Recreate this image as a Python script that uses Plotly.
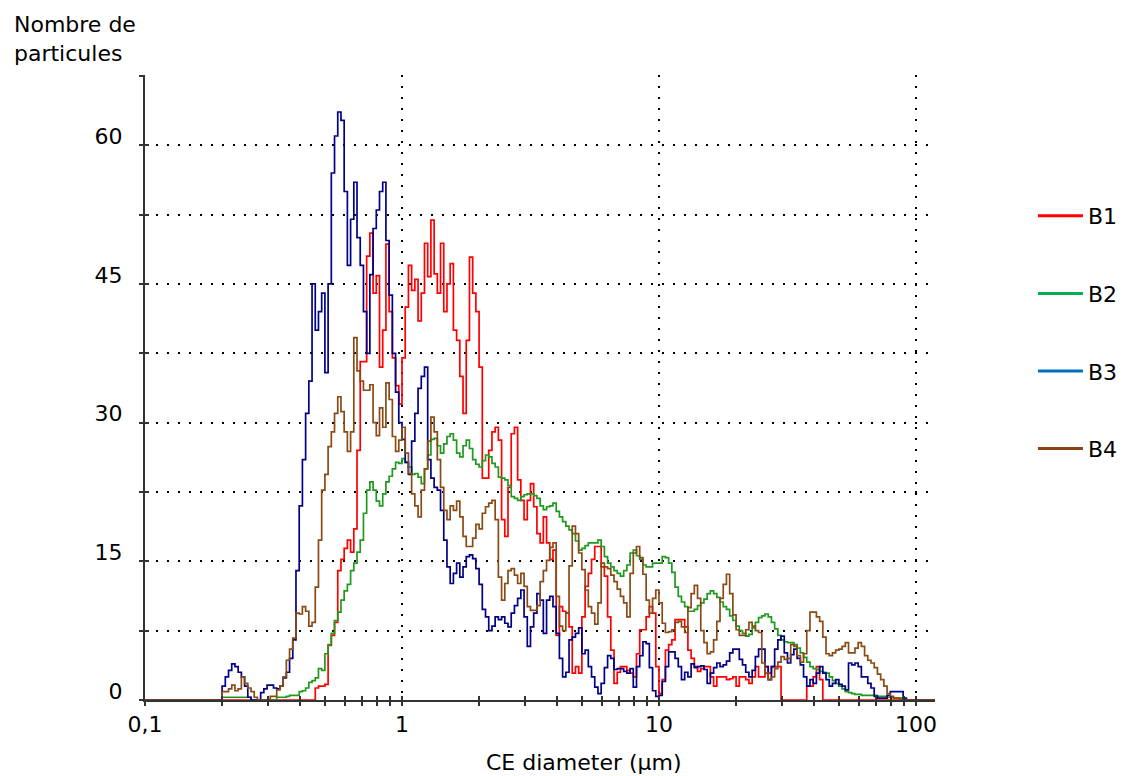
import numpy as np
import plotly.graph_objects as go

# Size bins of the particle counter (80 bins per decade, starting at 0.1 µm)
N_BINS = 247
diameter_um = 10 ** (-1 + np.arange(N_BINS) / 80)

# Particle counts per bin (rows of 10 bins, from 0.1 µm up)
b1 = [0] * 20 + [
    0, 0, 0, 0, 0, 0, 0, 0, 0, 0,
    0, 0, 0, 0, 0, 0, 0, 0, 0, 0,
    0, 0, 0, 0, 0, 0, 0, 0, 0, 0,
    0, 0, 0, 1.3, 1.5, 1.5, 1.7, 5.9, 7, 8.4,
    14, 15.2, 16.4, 17.3, 16, 18.5, 27, 36.6, 36.6, 48,
    50.5, 44, 45.9, 36, 40, 49.3, 42, 37, 34, 32,
    37, 42.5, 47, 44.3, 45.5, 41, 44, 49.4, 45.8, 51.9,
    46.1, 44, 49.4, 42, 45, 47.2, 40, 38.9, 35, 31,
    38.9, 47.9, 44, 42, 36, 24, 24, 27, 29, 29.5,
    28.1, 19.5, 17.7, 23, 28.8, 29.5, 23.8, 21.6, 19.5, 21.6,
    23.4, 20.9, 18, 17, 19.8, 17, 15.2, 16.2, 7, 10.1,
    9.6, 9.4, 7.9, 2.9, 3.6, 2.9, 9, 12.3, 13.7, 15.2,
    16.6, 16.6, 14.4, 13.4, 9, 5.4, 1.8, 3, 3.6, 3.6,
    3.2, 2.9, 2.5, 5, 7.6, 7.6, 9, 10.1, 9.4, 3.6,
    0.7, 2.2, 5.4, 6, 6.5, 8.7, 8.7, 8.7, 7.9, 5.4,
    4.5, 3.6, 3.1, 3.4, 3.6, 3.6, 2.5, 1.5, 2.5, 2.5,
    2.5, 2.2, 2.3, 2.5, 1.5, 2.5, 2.5, 2.2, 1.8, 2.5,
    3.6, 2.5, 2.5, 3.6, 2.9, 3.6, 3.6, 3.6, 0, 0,
    0, 0, 0, 0, 0, 0, 1.5, 1.5, 2.5, 3.6,
    2.2, 0, 0, 0, 0, 0, 0, 0, 0, 0,
    0, 0, 0, 0, 0, 0, 0, 0, 0, 0,
    0, 0, 0, 0, 0, 0, 0, 0, 0, 0,
] + [0] * 7

b2 = [0] * 20 + [
    0, 0, 0, 0, 0.3, 0.3, 0.3, 0.3, 0.3, 0.3,
    0.3, 0.3, 0.3, 0, 0, 0, 0, 0, 0, 0,
    0, 0.3, 0.3, 0.3, 0.4, 0.5, 0.5, 0.5, 0.9, 1,
    1.3, 1.9, 2.1, 2.4, 3.4, 3.2, 5, 6, 7.2, 8.6,
    9.5, 10.8, 11.8, 12.5, 14, 14.8, 16, 17.3, 20.2, 22.7,
    23.6, 22.7, 21.5, 21, 22.3, 23.6, 24.2, 25, 25.7, 25.6,
    26.1, 25.7, 25.2, 24.4, 24.5, 24.1, 23.4, 25, 26.5, 28.2,
    28.3, 27.5, 26.7, 27.7, 28.5, 28.8, 28.1, 26.7, 26.3, 27.5,
    28.1, 27.2, 26, 25.5, 25.2, 25.9, 26.5, 26.3, 25.6, 25.2,
    24.1, 24, 23.8, 23.2, 22, 21.8, 21.6, 22, 22.2, 22.3,
    22.3, 22.1, 21.8, 21, 20.6, 20.9, 21, 21.3, 20.4, 19.8,
    19.3, 18.8, 18.4, 18, 17.2, 16.2, 16.4, 16.7, 17, 17,
    17, 17.3, 16.6, 15.5, 14.8, 14.4, 14, 13.7, 13.4, 14,
    14.6, 15.9, 16.2, 15.6, 15.2, 14.6, 14.4, 14.4, 14.8, 14.8,
    14.8, 15.5, 15.4, 14.8, 13.8, 12.2, 11.2, 10.6, 10.1, 9.6,
    9.6, 9.8, 10.2, 10.5, 10.9, 11.5, 11.8, 11.5, 11.1, 10.6,
    10.1, 9.8, 9.1, 8.6, 8, 7.5, 7.2, 6.9, 7.1, 7.8,
    8.4, 8.9, 9.1, 9.3, 9, 8.4, 7.7, 7, 6.5, 6.3,
    6.2, 6.2, 6, 5.6, 5.1, 4.6, 4.1, 3.6, 3.4, 3.3,
    3.1, 3, 2.9, 2.5, 2.1, 1.8, 1.5, 1.2, 0.9, 0.8,
    0.7, 0.6, 0.6, 0.5, 0.5, 0.5, 0.5, 0.5, 0.4, 0.4,
    0.4, 0.3, 0.3, 0.2, 0.2, 0.2, 0.1, 0, 0, 0,
] + [0] * 7

b3 = [0] * 20 + [
    0, 0, 0, 0, 1.5, 2.5, 3.2, 3.9, 3.6, 3,
    2.5, 1.5, 0.3, 0, 0, 0, 0.8, 1.2, 1.6, 1.6,
    1.3, 1.2, 1.5, 2.4, 3, 4.5, 6.5, 14, 21, 26,
    31, 34.5, 45, 40, 42, 44, 35.4, 45, 57, 61,
    63.6, 62.7, 55, 47, 52, 56, 50, 47, 42, 37.5,
    46, 51, 53, 55, 56, 49.7, 43.8, 37.5, 33.3, 30,
    28.2, 25.7, 24.4, 28, 31, 33.7, 35, 36, 26, 24,
    23, 22.7, 20.5, 17.3, 14.4, 12.6, 13.7, 14.8, 13.3, 14.4,
    15.5, 15.7, 15.3, 14.2, 12.5, 9.8, 9, 7.5, 8, 9,
    8.7, 9, 8.3, 7.9, 9.4, 10.2, 11, 11.9, 9, 5.8,
    7.9, 9.4, 11.5, 10.8, 7.2, 10.8, 11.2, 10.1, 7.2, 4.5,
    2.5, 3, 6.5, 6.8, 7.2, 7.8, 5, 5.4, 3.6, 2.5,
    1.4, 0.7, 1.8, 3.5, 4.8, 4.5, 3.3, 3.4, 3.4, 3.1,
    2.9, 3.4, 1.4, 3.6, 4.8, 6.3, 6.1, 3.5, 1, 0.4,
    0.5, 2, 3.6, 5.2, 5.2, 4.5, 3.6, 2.2, 3, 2.5,
    3.9, 3.5, 3.6, 3.7, 3.3, 1.8, 2.9, 3.5, 4, 3.6,
    3.8, 4.2, 5.1, 5.5, 5.5, 4.4, 3.8, 3, 2.5, 3.2,
    4.7, 5.5, 5.5, 3.6, 2.2, 3.6, 5.5, 6.5, 6.9, 5.1,
    4, 4.9, 5.5, 4.5, 3.8, 2.5, 1.5, 2.2, 1.8, 2.9,
    3.6, 2.9, 2.2, 1.5, 1.8, 2.2, 1.7, 1.5, 1.1, 4,
    3.8, 4, 3.6, 2.5, 2.5, 1.8, 1.3, 0.4, 0.2, 0.2,
    0.2, 0.5, 0.9, 0.9, 0.9, 0.9, 0.2, 0, 0, 0,
] + [0] * 7

b4 = [0] * 20 + [
    0, 0, 0, 0, 0.9, 0.9, 1.2, 1.6, 1, 1.2,
    2.5, 1.8, 1.3, 0.9, 0.3, 0, 0, 0, 0, 0.4,
    0.4, 1.1, 1.5, 2.5, 4.3, 5.5, 6.7, 9.4, 9.3, 10.1,
    9.6, 8, 8.4, 12.2, 17.3, 22.7, 24.4, 27.4, 29, 31,
    32.8, 31.2, 29, 26.9, 29, 39.2, 35.6, 34.5, 33.5, 33.5,
    34.1, 30, 28.6, 31.6, 29.5, 34.3, 32.5, 28.5, 26.9, 28.1,
    29.5, 26.7, 24.5, 22.3, 21, 19.8, 22.7, 25, 28, 30.6,
    29, 26, 23, 20.5, 19.5, 21, 20.5, 21.5, 19.8, 17.7,
    16.6, 16.6, 17.5, 19, 18.5, 20.2, 20.9, 21.3, 21.6, 19.5,
    13.3, 10.8, 12.6, 14, 14.2, 13.5, 12.6, 13.7, 12.3, 10.1,
    9.7, 9.7, 10.2, 12.8, 14, 15.1, 16.5, 17, 11.2, 8,
    7.5, 9.4, 14.5, 18.8, 18, 15.9, 14.1, 11.9, 10.1, 9.4,
    8.2, 10.5, 14.8, 14.4, 14.2, 13.5, 12.8, 12, 11.2, 10.5,
    9, 13.7, 15.9, 16.6, 15.4, 13.6, 10.8, 9.4, 11, 11.9,
    10.5, 8.3, 7.3, 7.4, 7.6, 8.4, 8.5, 7.9, 7.3, 10,
    11.5, 12.4, 11, 7.5, 6.2, 5, 5.2, 6.5, 8.5, 11,
    12.5, 13.6, 11.5, 9.2, 7.6, 7, 7, 7.6, 8.4, 8,
    7.5, 7.3, 4, 2.9, 2.2, 2.5, 3.4, 4.1, 4.7, 4.4,
    4.5, 6, 5.8, 4.8, 4.1, 5, 7.5, 9.5, 9.5, 9,
    8.5, 6.8, 5, 4.8, 5.1, 5.4, 5.5, 5.8, 6.2, 5.1,
    5.1, 5.6, 6.2, 5.8, 4.8, 4.3, 4, 3.5, 2.8, 2.2,
    1.5, 0.7, 0.4, 0.2, 0.2, 0, 0, 0, 0, 0,
] + [0] * 7

series_names = ["B1", "B2", "B3", "B4"]
series_values = [b1, b2, b3, b4]
for vals in series_values:
    assert len(vals) == N_BINS, len(vals)

line_colors = ["#FF0000", "#1E9A1E", "#000088", "#8B4A14"]
legend_colors = ["#FF0000", "#00B050", "#0070C0", "#8B4513"]

x_tick_vals = [0.1, 1, 10, 100]
x_tick_text = ["0,1", "1", "10", "100"]
x_minor_vals = [m * d for d in (0.1, 1, 10) for m in range(2, 10)]
y_tick_vals = [0, 15, 30, 45, 60]
y_tick_text = ["0", "15", "30", "45", "60"]
y_minor_vals = [7.5, 22.5, 37.5, 52.5, 67.5]
y_all_vals = [0, 7.5, 15, 22.5, 30, 37.5, 45, 52.5, 60, 67.5]

FONT = "DejaVu Sans"
AX = "#333333"
GRID_DASH = "2px,9px"
x_range = [-1, 2.074]
y_range = [0, 67.6]

fig = go.Figure()
for name, vals, col in zip(series_names, series_values, line_colors):
    fig.add_trace(go.Scatter(
        x=diameter_um, y=vals, mode="lines", name=name,
        line=dict(color=col, width=1.7, shape="hv"), showlegend=False,
    ))
for name, col in zip(series_names, legend_colors):
    fig.add_trace(go.Scatter(
        x=[None], y=[None], mode="lines", name=name, legendgroup=name,
        line=dict(color=col, width=3), showlegend=True,
    ))
# helper trace so the overlay axes (inner half of the cross ticks) are drawn
fig.add_trace(go.Scatter(x=[None], y=[None], xaxis="x2", yaxis="y2",
                         showlegend=False, hoverinfo="skip"))

fig.update_layout(
    width=1126, height=776,
    margin=dict(l=145, r=191, t=75, b=76, autoexpand=False),
    paper_bgcolor="white", plot_bgcolor="white",
    font=dict(family=FONT, size=22, color="black"),
    xaxis=dict(
        type="log", range=x_range, showline=True, linecolor=AX, linewidth=2,
        automargin=False,
        ticks="outside", ticklen=4, tickwidth=1.5, tickcolor=AX,
        tickvals=x_tick_vals, ticktext=x_tick_text, ticklabelstandoff=0,
        showgrid=True, gridcolor="black", griddash=GRID_DASH, gridwidth=1.5,
        zeroline=False, tickfont=dict(family=FONT, size=22, color="black"),
        minor=dict(tickvals=x_minor_vals, ticks="outside", ticklen=4,
                   tickwidth=1.5, tickcolor=AX, showgrid=False),
    ),
    yaxis=dict(
        range=y_range, showline=True, linecolor=AX, linewidth=2,
        automargin=False,
        ticks="outside", ticklen=4, tickwidth=1.5, tickcolor=AX,
        tickvals=y_tick_vals, ticktext=y_tick_text, ticklabelstandoff=12,
        ticklabelshift=-9,
        showgrid=True, gridcolor="black", griddash=GRID_DASH, gridwidth=1.5,
        zeroline=False, tickfont=dict(family=FONT, size=22, color="black"),
        minor=dict(tickvals=y_minor_vals, ticks="outside", ticklen=4,
                   tickwidth=1.5, tickcolor=AX, showgrid=True,
                   gridcolor="black", griddash=GRID_DASH, gridwidth=1.5),
    ),
    xaxis2=dict(
        type="log", range=x_range, overlaying="x", anchor="y2", side="bottom",
        automargin=False,
        ticks="inside", ticklen=4, tickwidth=1.5, tickcolor=AX,
        tickvals=x_tick_vals, showticklabels=False, showgrid=False,
        showline=False, zeroline=False,
        minor=dict(tickvals=x_minor_vals, ticks="inside", ticklen=4,
                   tickwidth=1.5, tickcolor=AX, showgrid=False),
    ),
    yaxis2=dict(
        range=y_range, overlaying="y", anchor="x2", side="left",
        automargin=False,
        ticks="inside", ticklen=4, tickwidth=1.5, tickcolor=AX,
        tickvals=y_all_vals, showticklabels=False, showgrid=False,
        showline=False, zeroline=False,
    ),
    legend=dict(
        x=1.124, y=0.808, xanchor="left", yanchor="top",
        font=dict(family=FONT, size=22, color="black"),
        itemwidth=45, tracegroupgap=46, bgcolor="rgba(0,0,0,0)",
    ),
    annotations=[
        dict(text="Nombre de<br>particules", xref="paper", yref="paper",
             x=-0.1684, y=1.104, xanchor="left", yanchor="top", align="left",
             showarrow=False, font=dict(family=FONT, size=22, color="black")),
        dict(text="CE diameter (µm)", xref="paper", yref="paper",
             x=0.556, y=-0.0992, xanchor="center", yanchor="middle",
             showarrow=False, font=dict(family=FONT, size=22, color="black")),
    ],
)

# remove the browser's default 8px page margin so the 1126x776 figure fills the window
fig.write_html(
    "out.html",
    config={"displayModeBar": False},
    post_script="document.body.style.margin='0';document.body.style.overflow='hidden';",
)
